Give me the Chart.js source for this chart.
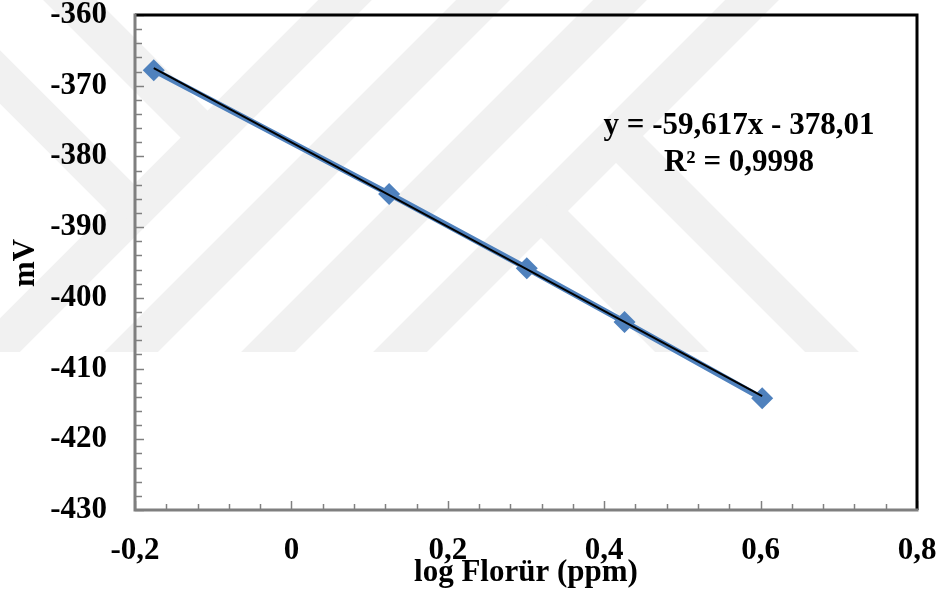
<!DOCTYPE html>
<html>
<head>
<meta charset="utf-8">
<script src="https://cdn.jsdelivr.net/npm/chart.js@4.4.0/dist/chart.umd.min.js"></script>
<style>
html,body{margin:0;padding:0;background:#fff;}
#wrap{position:relative;width:946px;height:593px;}
</style>
</head>
<body>
<div id="wrap"><canvas id="c" width="946" height="593"></canvas></div>
<script>
// Data
const logFluoride = [-0.176, 0.125, 0.301, 0.426, 0.602];
const mVValues = [-367.8, -385.3, -395.8, -403.4, -414.2];
const trendX = [-0.176, 0.602];
const trendY = [-367.52, -413.90];
const xTicks = [-0.2, 0, 0.2, 0.4, 0.6, 0.8];
const yTicks = [-430, -420, -410, -400, -390, -380, -370, -360];
const equationLines = ['y = -59,617x - 378,01', 'R² = 0,9998'];
const xTitle = 'log Florür (ppm)';
const yTitle = 'mV';

const FONT = '"Liberation Serif", "Times New Roman", serif';
const FS = 31;

function fmt(v){
  if (Math.abs(v) < 1e-9) return '0';
  return v.toFixed(1).replace('.', ',');
}

// faint background watermark (decorative stripes)
function drawWatermark(ctx){
  ctx.save();
  ctx.beginPath();
  ctx.rect(0, 0, 946, 352);
  ctx.clip();
  ctx.strokeStyle = '#f1f1f1';
  ctx.lineWidth = 38;
  ctx.lineCap = 'butt';
  const seg = (x1,y1,x2,y2)=>{ ctx.beginPath(); ctx.moveTo(x1,y1); ctx.lineTo(x2,y2); ctx.stroke(); };
  // "/" stripes: x + y = c
  [345, 483, 620, 752].forEach(c => seg(c + 20, -20, c - 420, 420));
  const back = (d, c, fromX) => { seg(fromX, fromX - d, (c + d)/2, (c - d)/2); };
  back(70, 345, 50);
  back(-77, 345, -20);
  const fwd = (d, c) => { seg((c + d)/2, (c - d)/2, 420 + d, 420); };
  fwd(330, 752);
  fwd(480, 752);
  ctx.restore();
}

const decorPlugin = {
  id: 'decor',
  beforeDraw(chart){
    const ctx = chart.ctx;
    ctx.save();
    ctx.fillStyle = '#fff';
    ctx.fillRect(0,0,chart.width,chart.height);
    ctx.restore();
    drawWatermark(ctx);
  },
  afterDatasetsDraw(chart){
    const ctx = chart.ctx;
    const a = chart.chartArea;
    const xs = chart.scales.x, ys = chart.scales.y;
    ctx.save();
    // inward minor/major ticks
    ctx.strokeStyle = '#808080';
    ctx.lineWidth = 1.5;
    for (let i = 0; i <= 25; i++){
      const v = -0.2 + i*0.04;
      const px = Math.round(xs.getPixelForValue(v)) + 0.5;
      const major = (i % 5 === 0);
      ctx.beginPath();
      ctx.moveTo(px, a.bottom);
      ctx.lineTo(px, a.bottom - (major ? 9 : 6));
      ctx.stroke();
    }
    for (let i = 0; i <= 35; i++){
      const v = -430 + i*2;
      const py = Math.round(ys.getPixelForValue(v)) + 0.5;
      const major = (i % 5 === 0);
      ctx.beginPath();
      ctx.moveTo(a.left, py);
      ctx.lineTo(a.left + (major ? 9 : 7), py);
      ctx.stroke();
    }
    // top and right border in black
    ctx.strokeStyle = '#000';
    ctx.lineWidth = 3;
    ctx.beginPath();
    ctx.moveTo(a.left, a.top);
    ctx.lineTo(a.right, a.top);
    ctx.lineTo(a.right, a.bottom);
    ctx.stroke();
    // left & bottom border grey
    ctx.strokeStyle = '#7f7f7f';
    ctx.beginPath();
    ctx.moveTo(a.left, a.top-1.5);
    ctx.lineTo(a.left, a.bottom);
    ctx.lineTo(a.right+1.5, a.bottom);
    ctx.stroke();

    // equation text
    ctx.fillStyle = '#000';
    ctx.font = 'bold ' + FS + 'px ' + FONT;
    ctx.textAlign = 'center';
    ctx.textBaseline = 'alphabetic';
    ctx.fillText(equationLines[0], 739, 134);
    ctx.fillText(equationLines[1], 739, 171);

    // axis titles
    ctx.fillText(xTitle, 526, 581);
    ctx.translate(34, 263);
    ctx.rotate(-Math.PI/2);
    ctx.fillText(yTitle, 0, 0);
    ctx.restore();
  }
};

new Chart(document.getElementById('c'), {
  type: 'scatter',
  data: {
    datasets: [
      {
        label: 'trend',
        data: trendX.map((x,i)=>({x, y: trendY[i]})),
        showLine: true,
        borderColor: '#000',
        borderWidth: 2,
        pointRadius: 0,
        order: 0
      },
      {
        label: 'mV',
        data: logFluoride.map((x,i)=>({x, y: mVValues[i]})),
        showLine: true,
        borderColor: '#4F81BD',
        backgroundColor: '#4F81BD',
        borderWidth: 6,
        pointStyle: 'rectRot',
        pointRadius: 11,
        pointBorderWidth: 0,
        order: 1
      }
    ]
  },
  options: {
    responsive: false,
    animation: false,
    devicePixelRatio: 1,
    layout: { padding: { left: 0, top: 15, right: 29, bottom: 0 } },
    plugins: { legend: { display: false }, tooltip: { enabled: false } },
    scales: {
      x: {
        type: 'linear',
        min: -0.2, max: 0.8,
        afterBuildTicks(scale){ scale.ticks = xTicks.map(v=>({value:v})); },
        afterFit(scale){ scale.height = 83; scale.paddingLeft = 0; scale.paddingRight = 0; },
        grid: { display: false, drawTicks: false },
        border: { display: false },
        ticks: {
          padding: 22,
          color: '#000',
          font: { family: FONT, size: FS, weight: 'bold' },
          callback: (v)=>fmt(v),
          maxRotation: 0, autoSkip: false
        }
      },
      y: {
        type: 'linear',
        min: -430, max: -360,
        afterBuildTicks(scale){ scale.ticks = yTicks.map(v=>({value:v})); },
        afterFit(scale){ scale.width = 135; scale.paddingTop = 0; scale.paddingBottom = 0; },
        grid: { display: false, drawTicks: false },
        border: { display: false },
        ticks: {
          padding: 28,
          color: '#000',
          font: { family: FONT, size: FS, weight: 'bold' },
          callback: (v)=>String(v),
          autoSkip: false
        }
      }
    }
  },
  plugins: [decorPlugin]
});
</script>
</body>
</html>
